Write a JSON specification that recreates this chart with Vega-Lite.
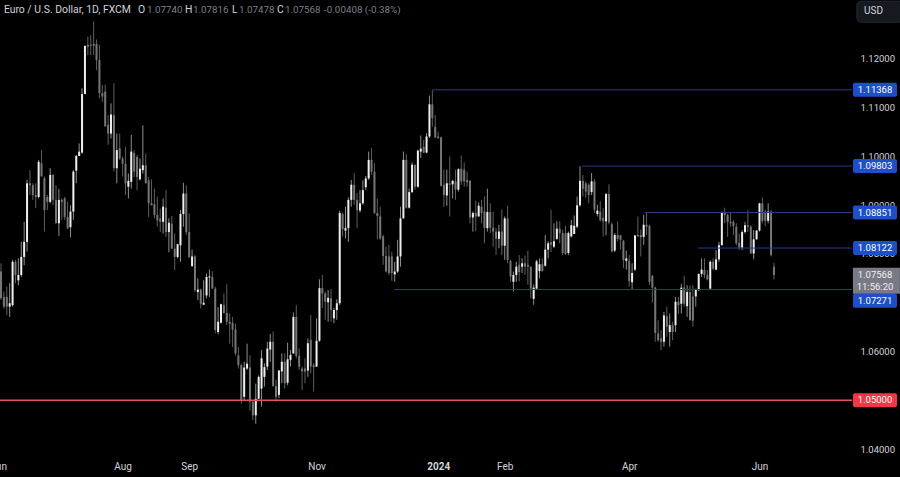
{
  "$schema": "https://vega.github.io/schema/vega-lite/v6.json",
  "width": 852,
  "height": 457,
  "autosize": {"type": "none"},
  "padding": {"left": 0, "top": 0, "right": 48, "bottom": 20},
  "background": "#000000",
  "config": {
    "view": {"stroke": null},
    "font": "Roboto",
    "axis": {
      "grid": false,
      "ticks": false,
      "domain": false,
      "labelColor": "#d1d4dc",
      "labelFont": "Roboto",
      "labelFontSize": 9.5,
      "labelOverlap": false,
      "labelFlush": false,
      "labelBound": false
    }
  },
  "resolve": {"scale": {"color": "independent", "strokeWidth": "independent"}},
  "datasets": {
    "bars": [
      {"i":0,"o":1.0764,"h":1.0781,"l":1.0706,"c":1.0709},
      {"i":1,"o":1.0712,"h":1.0723,"l":1.0688,"c":1.0692},
      {"i":2,"o":1.0712,"h":1.0733,"l":1.0675,"c":1.0692},
      {"i":3,"o":1.0692,"h":1.0740,"l":1.0671,"c":1.0699},
      {"i":4,"o":1.0695,"h":1.0788,"l":1.0692,"c":1.0784},
      {"i":5,"o":1.0784,"h":1.0788,"l":1.0740,"c":1.0757},
      {"i":6,"o":1.0746,"h":1.0791,"l":1.0736,"c":1.0757},
      {"i":7,"o":1.0757,"h":1.0825,"l":1.0753,"c":1.0794},
      {"i":8,"o":1.0794,"h":1.0866,"l":1.0777,"c":1.0825},
      {"i":9,"o":1.0825,"h":1.0952,"l":1.0805,"c":1.0945},
      {"i":10,"o":1.0945,"h":1.0972,"l":1.0921,"c":1.0941},
      {"i":11,"o":1.0941,"h":1.0945,"l":1.0911,"c":1.0921},
      {"i":12,"o":1.0921,"h":1.0945,"l":1.0894,"c":1.0917},
      {"i":13,"o":1.0917,"h":1.0993,"l":1.0914,"c":1.0989},
      {"i":14,"o":1.0986,"h":1.1013,"l":1.0959,"c":1.0959},
      {"i":15,"o":1.0955,"h":1.0959,"l":1.0846,"c":1.0890},
      {"i":16,"o":1.0917,"h":1.0921,"l":1.0890,"c":1.0907},
      {"i":17,"o":1.0907,"h":1.0976,"l":1.0904,"c":1.0962},
      {"i":18,"o":1.0962,"h":1.0964,"l":1.0900,"c":1.0911},
      {"i":19,"o":1.0911,"h":1.0941,"l":1.0863,"c":1.0863},
      {"i":20,"o":1.0863,"h":1.0933,"l":1.0837,"c":1.0911},
      {"i":21,"o":1.0911,"h":1.0914,"l":1.0870,"c":1.0907},
      {"i":22,"o":1.0914,"h":1.0917,"l":1.0870,"c":1.0876},
      {"i":23,"o":1.0876,"h":1.0907,"l":1.0852,"c":1.0852},
      {"i":24,"o":1.0855,"h":1.0900,"l":1.0834,"c":1.0887},
      {"i":25,"o":1.0887,"h":1.0972,"l":1.0870,"c":1.0969},
      {"i":26,"o":1.0971,"h":1.1003,"l":1.0945,"c":1.1001},
      {"i":27,"o":1.1001,"h":1.1027,"l":1.1001,"c":1.1010},
      {"i":28,"o":1.1008,"h":1.1140,"l":1.1006,"c":1.1128},
      {"i":29,"o":1.1128,"h":1.1227,"l":1.1128,"c":1.1227},
      {"i":30,"o":1.1229,"h":1.1246,"l":1.1208,"c":1.1225},
      {"i":31,"o":1.1229,"h":1.1249,"l":1.1208,"c":1.1227},
      {"i":32,"o":1.1231,"h":1.1277,"l":1.1208,"c":1.1227},
      {"i":33,"o":1.1231,"h":1.1240,"l":1.1177,"c":1.1198},
      {"i":34,"o":1.1198,"h":1.1229,"l":1.1119,"c":1.1130},
      {"i":35,"o":1.1130,"h":1.1147,"l":1.1112,"c":1.1123},
      {"i":36,"o":1.1133,"h":1.1147,"l":1.1061,"c":1.1062},
      {"i":37,"o":1.1065,"h":1.1085,"l":1.1024,"c":1.1047},
      {"i":38,"o":1.1047,"h":1.1109,"l":1.1037,"c":1.1086},
      {"i":39,"o":1.1085,"h":1.1150,"l":1.0969,"c":1.0976},
      {"i":40,"o":1.0976,"h":1.1047,"l":1.0945,"c":1.1013},
      {"i":41,"o":1.1017,"h":1.1047,"l":1.0993,"c":1.0996},
      {"i":42,"o":1.0996,"h":1.1000,"l":1.0959,"c":1.0985},
      {"i":43,"o":1.0985,"h":1.1020,"l":1.0921,"c":1.0945},
      {"i":44,"o":1.0938,"h":1.0965,"l":1.0914,"c":1.0950},
      {"i":45,"o":1.0948,"h":1.1044,"l":1.0934,"c":1.1010},
      {"i":46,"o":1.1007,"h":1.1013,"l":1.0958,"c":1.0969},
      {"i":47,"o":1.0999,"h":1.1003,"l":1.0931,"c":1.0958},
      {"i":48,"o":1.0953,"h":1.0996,"l":1.0951,"c":1.0975},
      {"i":49,"o":1.0972,"h":1.1064,"l":1.0965,"c":1.0982},
      {"i":50,"o":1.0982,"h":1.1006,"l":1.0945,"c":1.0945},
      {"i":51,"o":1.0951,"h":1.0958,"l":1.0876,"c":1.0904},
      {"i":52,"o":1.0904,"h":1.0953,"l":1.0900,"c":1.0900},
      {"i":53,"o":1.0902,"h":1.0934,"l":1.0873,"c":1.0880},
      {"i":54,"o":1.0880,"h":1.0917,"l":1.0856,"c":1.0869},
      {"i":55,"o":1.0873,"h":1.0893,"l":1.0845,"c":1.0866},
      {"i":56,"o":1.0866,"h":1.0914,"l":1.0842,"c":1.0897},
      {"i":57,"o":1.0895,"h":1.0931,"l":1.0835,"c":1.0845},
      {"i":58,"o":1.0845,"h":1.0873,"l":1.0804,"c":1.0864},
      {"i":59,"o":1.0862,"h":1.0878,"l":1.0811,"c":1.0811},
      {"i":60,"o":1.0811,"h":1.0842,"l":1.0767,"c":1.0794},
      {"i":61,"o":1.0794,"h":1.0821,"l":1.0791,"c":1.0820},
      {"i":62,"o":1.0818,"h":1.0890,"l":1.0784,"c":1.0882},
      {"i":63,"o":1.0882,"h":1.0946,"l":1.0856,"c":1.0924},
      {"i":64,"o":1.0924,"h":1.0941,"l":1.0839,"c":1.0845},
      {"i":65,"o":1.0845,"h":1.0883,"l":1.0793,"c":1.0793},
      {"i":66,"o":1.0775,"h":1.0809,"l":1.0774,"c":1.0795},
      {"i":67,"o":1.0795,"h":1.0798,"l":1.0722,"c":1.0726},
      {"i":68,"o":1.0722,"h":1.0750,"l":1.0705,"c":1.0727},
      {"i":69,"o":1.0727,"h":1.0729,"l":1.0688,"c":1.0698},
      {"i":70,"o":1.0696,"h":1.0746,"l":1.0695,"c":1.0700},
      {"i":71,"o":1.0715,"h":1.0760,"l":1.0709,"c":1.0753},
      {"i":72,"o":1.0752,"h":1.0768,"l":1.0712,"c":1.0754},
      {"i":73,"o":1.0753,"h":1.0765,"l":1.0729,"c":1.0729},
      {"i":74,"o":1.0729,"h":1.0733,"l":1.0637,"c":1.0644},
      {"i":75,"o":1.0640,"h":1.0691,"l":1.0635,"c":1.0661},
      {"i":76,"o":1.0659,"h":1.0698,"l":1.0657,"c":1.0697},
      {"i":77,"o":1.0695,"h":1.0719,"l":1.0678,"c":1.0679},
      {"i":78,"o":1.0679,"h":1.0738,"l":1.0654,"c":1.0661},
      {"i":79,"o":1.0661,"h":1.0678,"l":1.0616,"c":1.0657},
      {"i":80,"o":1.0659,"h":1.0671,"l":1.0609,"c":1.0645},
      {"i":81,"o":1.0645,"h":1.0657,"l":1.0592,"c":1.0596},
      {"i":82,"o":1.0592,"h":1.0609,"l":1.0565,"c":1.0572},
      {"i":83,"o":1.0572,"h":1.0575,"l":1.0493,"c":1.0500},
      {"i":84,"o":1.0507,"h":1.0579,"l":1.0500,"c":1.0567},
      {"i":85,"o":1.0565,"h":1.0616,"l":1.0562,"c":1.0575},
      {"i":86,"o":1.0567,"h":1.0592,"l":1.0479,"c":1.0497},
      {"i":87,"o":1.0497,"h":1.0500,"l":1.0459,"c":1.0469},
      {"i":88,"o":1.0469,"h":1.0534,"l":1.0452,"c":1.0503},
      {"i":89,"o":1.0503,"h":1.0551,"l":1.0503,"c":1.0548},
      {"i":90,"o":1.0524,"h":1.0603,"l":1.0487,"c":1.0586},
      {"i":91,"o":1.0548,"h":1.0576,"l":1.0528,"c":1.0568},
      {"i":92,"o":1.0569,"h":1.0620,"l":1.0562,"c":1.0606},
      {"i":93,"o":1.0604,"h":1.0636,"l":1.0579,"c":1.0620},
      {"i":94,"o":1.0620,"h":1.0641,"l":1.0528,"c":1.0529},
      {"i":95,"o":1.0529,"h":1.0542,"l":1.0497,"c":1.0507},
      {"i":96,"o":1.0511,"h":1.0562,"l":1.0504,"c":1.0561},
      {"i":97,"o":1.0559,"h":1.0596,"l":1.0535,"c":1.0579},
      {"i":98,"o":1.0579,"h":1.0596,"l":1.0524,"c":1.0535},
      {"i":99,"o":1.0536,"h":1.0618,"l":1.0531,"c":1.0584},
      {"i":100,"o":1.0583,"h":1.0603,"l":1.0569,"c":1.0593},
      {"i":101,"o":1.0596,"h":1.0680,"l":1.0596,"c":1.0671},
      {"i":102,"o":1.0671,"h":1.0695,"l":1.0586,"c":1.0591},
      {"i":103,"o":1.0591,"h":1.0606,"l":1.0562,"c":1.0569},
      {"i":104,"o":1.0565,"h":1.0569,"l":1.0521,"c":1.0559},
      {"i":105,"o":1.0565,"h":1.0586,"l":1.0535,"c":1.0559},
      {"i":106,"o":1.0561,"h":1.0627,"l":1.0548,"c":1.0617},
      {"i":107,"o":1.0624,"h":1.0675,"l":1.0555,"c":1.0569},
      {"i":108,"o":1.0572,"h":1.0576,"l":1.0518,"c":1.0568},
      {"i":109,"o":1.0569,"h":1.0668,"l":1.0569,"c":1.0622},
      {"i":110,"o":1.0622,"h":1.0748,"l":1.0620,"c":1.0730},
      {"i":111,"o":1.0730,"h":1.0757,"l":1.0689,"c":1.0719},
      {"i":112,"o":1.0719,"h":1.0723,"l":1.0665,"c":1.0702},
      {"i":113,"o":1.0701,"h":1.0726,"l":1.0661,"c":1.0710},
      {"i":114,"o":1.0709,"h":1.0728,"l":1.0661,"c":1.0685},
      {"i":115,"o":1.0668,"h":1.0689,"l":1.0658,"c":1.0685},
      {"i":116,"o":1.0685,"h":1.0707,"l":1.0665,"c":1.0699},
      {"i":117,"o":1.0699,"h":1.0889,"l":1.0695,"c":1.0884},
      {"i":118,"o":1.0882,"h":1.0885,"l":1.0836,"c":1.0851},
      {"i":119,"o":1.0848,"h":1.0897,"l":1.0832,"c":1.0853},
      {"i":120,"o":1.0853,"h":1.0916,"l":1.0825,"c":1.0911},
      {"i":121,"o":1.0911,"h":1.0952,"l":1.0897,"c":1.0942},
      {"i":122,"o":1.0942,"h":1.0966,"l":1.0901,"c":1.0911},
      {"i":123,"o":1.0911,"h":1.0925,"l":1.0853,"c":1.0890},
      {"i":124,"o":1.0889,"h":1.0931,"l":1.0885,"c":1.0904},
      {"i":125,"o":1.0904,"h":1.0951,"l":1.0901,"c":1.0931},
      {"i":126,"o":1.0937,"h":1.0960,"l":1.0931,"c":1.0955},
      {"i":127,"o":1.0955,"h":1.1010,"l":1.0952,"c":1.0993},
      {"i":128,"o":1.0993,"h":1.1017,"l":1.0962,"c":1.0969},
      {"i":129,"o":1.0969,"h":1.0986,"l":1.0882,"c":1.0884},
      {"i":130,"o":1.0884,"h":1.0914,"l":1.0830,"c":1.0878},
      {"i":131,"o":1.0877,"h":1.0897,"l":1.0829,"c":1.0832},
      {"i":132,"o":1.0836,"h":1.0839,"l":1.0778,"c":1.0796},
      {"i":133,"o":1.0796,"h":1.0815,"l":1.0762,"c":1.0764},
      {"i":134,"o":1.0795,"h":1.0819,"l":1.0757,"c":1.0761},
      {"i":135,"o":1.0795,"h":1.0805,"l":1.0745,"c":1.0761},
      {"i":136,"o":1.0758,"h":1.0784,"l":1.0743,"c":1.0764},
      {"i":137,"o":1.0764,"h":1.0829,"l":1.0761,"c":1.0795},
      {"i":138,"o":1.0795,"h":1.0897,"l":1.0774,"c":1.0873},
      {"i":139,"o":1.0873,"h":1.1010,"l":1.0873,"c":1.0993},
      {"i":140,"o":1.0993,"h":1.1005,"l":1.0893,"c":1.0895},
      {"i":141,"o":1.0895,"h":1.0934,"l":1.0893,"c":1.0927},
      {"i":142,"o":1.0927,"h":1.0988,"l":1.0925,"c":1.0983},
      {"i":143,"o":1.0983,"h":1.0983,"l":1.0932,"c":1.0938},
      {"i":144,"o":1.0938,"h":1.1014,"l":1.0936,"c":1.1012},
      {"i":145,"o":1.1010,"h":1.1043,"l":1.0997,"c":1.1016},
      {"i":146,"o":1.1020,"h":1.1034,"l":1.1007,"c":1.1008},
      {"i":147,"o":1.1008,"h":1.1048,"l":1.1007,"c":1.1041},
      {"i":148,"o":1.1041,"h":1.1125,"l":1.1038,"c":1.1107},
      {"i":149,"o":1.1107,"h":1.1137,"l":1.1061,"c":1.1079},
      {"i":150,"o":1.1061,"h":1.1085,"l":1.1038,"c":1.1039},
      {"i":151,"o":1.1041,"h":1.1051,"l":1.1036,"c":1.1038},
      {"i":152,"o":1.1039,"h":1.1041,"l":1.0938,"c":1.0940},
      {"i":153,"o":1.0942,"h":1.0973,"l":1.0897,"c":1.0921},
      {"i":154,"o":1.0920,"h":1.0973,"l":1.0899,"c":1.0945},
      {"i":155,"o":1.0945,"h":1.1000,"l":1.0877,"c":1.0942},
      {"i":156,"o":1.0943,"h":1.0952,"l":1.0914,"c":1.0950},
      {"i":157,"o":1.0949,"h":1.0973,"l":1.0911,"c":1.0932},
      {"i":158,"o":1.0932,"h":1.0976,"l":1.0928,"c":1.0974},
      {"i":159,"o":1.0975,"h":1.1002,"l":1.0942,"c":1.0949},
      {"i":160,"o":1.0973,"h":1.0988,"l":1.0938,"c":1.0949},
      {"i":161,"o":1.0952,"h":1.0969,"l":1.0938,"c":1.0947},
      {"i":162,"o":1.0950,"h":1.0952,"l":1.0863,"c":1.0875},
      {"i":163,"o":1.0875,"h":1.0887,"l":1.0846,"c":1.0884},
      {"i":164,"o":1.0884,"h":1.0909,"l":1.0847,"c":1.0877},
      {"i":165,"o":1.0877,"h":1.0906,"l":1.0877,"c":1.0899},
      {"i":166,"o":1.0897,"h":1.0911,"l":1.0863,"c":1.0884},
      {"i":167,"o":1.0887,"h":1.0918,"l":1.0822,"c":1.0853},
      {"i":168,"o":1.0853,"h":1.0934,"l":1.0846,"c":1.0886},
      {"i":169,"o":1.0886,"h":1.0904,"l":1.0843,"c":1.0854},
      {"i":170,"o":1.0854,"h":1.0887,"l":1.0815,"c":1.0846},
      {"i":171,"o":1.0846,"h":1.0853,"l":1.0798,"c":1.0831},
      {"i":172,"o":1.0831,"h":1.0860,"l":1.0812,"c":1.0846},
      {"i":173,"o":1.0846,"h":1.0891,"l":1.0798,"c":1.0817},
      {"i":174,"o":1.0817,"h":1.0877,"l":1.0788,"c":1.0873},
      {"i":175,"o":1.0873,"h":1.0899,"l":1.0781,"c":1.0788},
      {"i":176,"o":1.0786,"h":1.0788,"l":1.0743,"c":1.0754},
      {"i":177,"o":1.0743,"h":1.0764,"l":1.0723,"c":1.0757},
      {"i":178,"o":1.0757,"h":1.0784,"l":1.0743,"c":1.0774},
      {"i":179,"o":1.0778,"h":1.0798,"l":1.0744,"c":1.0763},
      {"i":180,"o":1.0774,"h":1.0791,"l":1.0761,"c":1.0781},
      {"i":181,"o":1.0781,"h":1.0797,"l":1.0757,"c":1.0774},
      {"i":182,"o":1.0778,"h":1.0807,"l":1.0737,"c":1.0774},
      {"i":183,"o":1.0774,"h":1.0774,"l":1.0709,"c":1.0729},
      {"i":184,"o":1.0708,"h":1.0737,"l":1.0696,"c":1.0731},
      {"i":185,"o":1.0729,"h":1.0788,"l":1.0727,"c":1.0785},
      {"i":186,"o":1.0765,"h":1.0791,"l":1.0750,"c":1.0779},
      {"i":187,"o":1.0779,"h":1.0791,"l":1.0764,"c":1.0765},
      {"i":188,"o":1.0776,"h":1.0839,"l":1.0774,"c":1.0809},
      {"i":189,"o":1.0809,"h":1.0826,"l":1.0791,"c":1.0822},
      {"i":190,"o":1.0824,"h":1.0891,"l":1.0804,"c":1.0819},
      {"i":191,"o":1.0815,"h":1.0863,"l":1.0812,"c":1.0826},
      {"i":192,"o":1.0831,"h":1.0867,"l":1.0829,"c":1.0852},
      {"i":193,"o":1.0852,"h":1.0867,"l":1.0822,"c":1.0843},
      {"i":194,"o":1.0843,"h":1.0850,"l":1.0798,"c":1.0802},
      {"i":195,"o":1.0843,"h":1.0858,"l":1.0798,"c":1.0800},
      {"i":196,"o":1.0802,"h":1.0846,"l":1.0798,"c":1.0843},
      {"i":197,"o":1.0836,"h":1.0870,"l":1.0834,"c":1.0859},
      {"i":198,"o":1.0841,"h":1.0879,"l":1.0841,"c":1.0858},
      {"i":199,"o":1.0856,"h":1.0918,"l":1.0853,"c":1.0900},
      {"i":200,"o":1.0900,"h":1.0980,"l":1.0897,"c":1.0950},
      {"i":201,"o":1.0950,"h":1.0962,"l":1.0918,"c":1.0934},
      {"i":202,"o":1.0945,"h":1.0949,"l":1.0915,"c":1.0928},
      {"i":203,"o":1.0942,"h":1.0945,"l":1.0904,"c":1.0921},
      {"i":204,"o":1.0927,"h":1.0966,"l":1.0921,"c":1.0949},
      {"i":205,"o":1.0949,"h":1.0954,"l":1.0884,"c":1.0891},
      {"i":206,"o":1.0882,"h":1.0901,"l":1.0877,"c":1.0889},
      {"i":207,"o":1.0887,"h":1.0908,"l":1.0867,"c":1.0870},
      {"i":208,"o":1.0874,"h":1.0894,"l":1.0836,"c":1.0867},
      {"i":209,"o":1.0867,"h":1.0925,"l":1.0838,"c":1.0923},
      {"i":210,"o":1.0923,"h":1.0943,"l":1.0861,"c":1.0865},
      {"i":211,"o":1.0861,"h":1.0865,"l":1.0804,"c":1.0805},
      {"i":212,"o":1.0807,"h":1.0843,"l":1.0804,"c":1.0839},
      {"i":213,"o":1.0839,"h":1.0867,"l":1.0826,"c":1.0831},
      {"i":214,"o":1.0838,"h":1.0839,"l":1.0809,"c":1.0829},
      {"i":215,"o":1.0827,"h":1.0829,"l":1.0771,"c":1.0788},
      {"i":216,"o":1.0786,"h":1.0807,"l":1.0768,"c":1.0791},
      {"i":217,"o":1.0786,"h":1.0798,"l":1.0733,"c":1.0744},
      {"i":218,"o":1.0742,"h":1.0781,"l":1.0727,"c":1.0761},
      {"i":219,"o":1.0768,"h":1.0839,"l":1.0765,"c":1.0838},
      {"i":220,"o":1.0839,"h":1.0877,"l":1.0836,"c":1.0836},
      {"i":221,"o":1.0839,"h":1.0850,"l":1.0795,"c":1.0834},
      {"i":222,"o":1.0835,"h":1.0880,"l":1.0819,"c":1.0860},
      {"i":223,"o":1.0860,"h":1.0885,"l":1.0839,"c":1.0856},
      {"i":224,"o":1.0858,"h":1.0860,"l":1.0737,"c":1.0743},
      {"i":225,"o":1.0755,"h":1.0757,"l":1.0700,"c":1.0731},
      {"i":226,"o":1.0731,"h":1.0733,"l":1.0620,"c":1.0638},
      {"i":227,"o":1.0637,"h":1.0664,"l":1.0620,"c":1.0623},
      {"i":228,"o":1.0627,"h":1.0644,"l":1.0603,"c":1.0620},
      {"i":229,"o":1.0620,"h":1.0681,"l":1.0610,"c":1.0674},
      {"i":230,"o":1.0672,"h":1.0692,"l":1.0630,"c":1.0651},
      {"i":231,"o":1.0640,"h":1.0678,"l":1.0610,"c":1.0654},
      {"i":232,"o":1.0654,"h":1.0661,"l":1.0623,"c":1.0640},
      {"i":233,"o":1.0654,"h":1.0712,"l":1.0640,"c":1.0702},
      {"i":234,"o":1.0702,"h":1.0712,"l":1.0677,"c":1.0695},
      {"i":235,"o":1.0698,"h":1.0739,"l":1.0678,"c":1.0731},
      {"i":236,"o":1.0731,"h":1.0755,"l":1.0692,"c":1.0698},
      {"i":237,"o":1.0693,"h":1.0736,"l":1.0671,"c":1.0722},
      {"i":238,"o":1.0722,"h":1.0736,"l":1.0664,"c":1.0664},
      {"i":239,"o":1.0713,"h":1.0736,"l":1.0651,"c":1.0663},
      {"i":240,"o":1.0713,"h":1.0729,"l":1.0692,"c":1.0726},
      {"i":241,"o":1.0726,"h":1.0760,"l":1.0724,"c":1.0759},
      {"i":242,"o":1.0759,"h":1.0791,"l":1.0753,"c":1.0768},
      {"i":243,"o":1.0767,"h":1.0791,"l":1.0750,"c":1.0757},
      {"i":244,"o":1.0757,"h":1.0767,"l":1.0746,"c":1.0748},
      {"i":245,"o":1.0729,"h":1.0787,"l":1.0726,"c":1.0784},
      {"i":246,"o":1.0784,"h":1.0791,"l":1.0767,"c":1.0770},
      {"i":247,"o":1.0768,"h":1.0808,"l":1.0767,"c":1.0789},
      {"i":248,"o":1.0789,"h":1.0825,"l":1.0784,"c":1.0818},
      {"i":249,"o":1.0818,"h":1.0887,"l":1.0818,"c":1.0884},
      {"i":250,"o":1.0884,"h":1.0895,"l":1.0863,"c":1.0880},
      {"i":251,"o":1.0880,"h":1.0883,"l":1.0835,"c":1.0866},
      {"i":252,"o":1.0866,"h":1.0884,"l":1.0856,"c":1.0863},
      {"i":253,"o":1.0866,"h":1.0869,"l":1.0839,"c":1.0857},
      {"i":254,"o":1.0856,"h":1.0863,"l":1.0818,"c":1.0822},
      {"i":255,"o":1.0823,"h":1.0842,"l":1.0808,"c":1.0813},
      {"i":256,"o":1.0813,"h":1.0849,"l":1.0808,"c":1.0845},
      {"i":257,"o":1.0845,"h":1.0866,"l":1.0842,"c":1.0859},
      {"i":258,"o":1.0859,"h":1.0890,"l":1.0845,"c":1.0856},
      {"i":259,"o":1.0856,"h":1.0859,"l":1.0801,"c":1.0801},
      {"i":260,"o":1.0801,"h":1.0849,"l":1.0789,"c":1.0830},
      {"i":261,"o":1.0830,"h":1.0849,"l":1.0830,"c":1.0848},
      {"i":262,"o":1.0848,"h":1.0905,"l":1.0846,"c":1.0904},
      {"i":263,"o":1.0904,"h":1.0916,"l":1.0863,"c":1.0868},
      {"i":264,"o":1.0887,"h":1.0890,"l":1.0857,"c":1.0868},
      {"i":265,"o":1.0868,"h":1.0904,"l":1.0863,"c":1.0887},
      {"i":266,"o":1.0887,"h":1.0890,"l":1.0795,"c":1.0798},
      {"i":267,"o":1.0774,"h":1.07816,"l":1.07478,"c":1.07568}
    ],
    "levels": [
      {"i":149.2,"p":1.11368,"kind":"level"},
      {"i":200.7,"p":1.09803,"kind":"level"},
      {"i":222.5,"p":1.08851,"kind":"level"},
      {"i":240.8,"p":1.08122,"kind":"level"},
      {"i":135.8,"p":1.07271,"kind":"level"},
      {"i":-0.345,"p":1.05,"kind":"key"}
    ],
    "tags": [
      {"p":1.11368,"label":"1.11368","kind":"level"},
      {"p":1.09803,"label":"1.09803","kind":"level"},
      {"p":1.08851,"label":"1.08851","kind":"level"},
      {"p":1.08122,"label":"1.08122","kind":"level"},
      {"p":1.0704,"label":"1.07271","kind":"level"},
      {"p":1.05,"label":"1.05000","kind":"key"}
    ],
    "last": [
      {"p":1.0757,"label":"1.07568"},
      {"p":1.0733,"label":"11:56:20"}
    ],
    "header": [
      {"i":1,"label":"Euro / U.S. Dollar, 1D, FXCM","kind":"name"},
      {"i":47.3,"label":"O","kind":"name"},
      {"i":50.4,"label":"1.07740","kind":"value"},
      {"i":63.6,"label":"H","kind":"name"},
      {"i":66.3,"label":"1.07816","kind":"value"},
      {"i":79.8,"label":"L","kind":"name"},
      {"i":82.2,"label":"1.07478","kind":"value"},
      {"i":95.3,"label":"C","kind":"name"},
      {"i":98.1,"label":"1.07568","kind":"value"},
      {"i":111.6,"label":"-0.00408 (-0.38%)","kind":"value"}
    ]
  },
  "layer": [
    {
      "data": {"name": "bars"},
      "mark": {"type": "rule", "strokeWidth": 1},
      "encoding": {
        "x": {
          "field": "i",
          "type": "quantitative",
          "scale": {"domain": [-0.345, 293.96], "nice": false, "zero": false},
          "axis": {
            "title": null,
            "values": [-0.3, 42, 65, 109, 151, 174, 217, 262],
            "labelExpr": "datum.value < 0 ? 'Jun' : {'42':'Aug','65':'Sep','109':'Nov','151':'2024','174':'Feb','217':'Apr','262':'Jun'}[datum.value]",
            "labelFontWeight": {"condition": {"test": "datum.value == 151", "value": "bold"}, "value": "normal"},
            "labelOffset": {"condition": {"test": "datum.value < 0", "value": -2}, "value": 0},
            "labelFontSize": 10,
            "labelPadding": 4
          }
        },
        "y": {
          "field": "h",
          "type": "quantitative",
          "scale": {"domain": [1.03836, 1.1321], "nice": false, "zero": false},
          "axis": {
            "orient": "right",
            "title": null,
            "values": [1.04, 1.06, 1.08, 1.09, 1.1, 1.11, 1.12],
            "format": ".5f",
            "labelPadding": 8
          }
        },
        "y2": {"field": "l"},
        "color": {
          "condition": {"test": "datum.c >= datum.o", "value": "#8f8f8f"},
          "value": "#5f5f5f"
        }
      }
    },
    {
      "data": {"name": "bars"},
      "mark": {"type": "rule", "strokeWidth": 2},
      "encoding": {
        "x": {
          "field": "i",
          "type": "quantitative",
          "scale": {"domain": [-0.345, 293.96], "nice": false, "zero": false},
          "axis": {"title": null}
        },
        "y": {
          "field": "o",
          "type": "quantitative",
          "scale": {"domain": [1.03836, 1.1321], "nice": false, "zero": false},
          "axis": {"orient": "right", "title": null}
        },
        "y2": {"field": "c"},
        "color": {
          "condition": {"test": "datum.c >= datum.o", "value": "#eeeeee"},
          "value": "#767676"
        }
      }
    },
    {
      "data": {"name": "levels"},
      "mark": {"type": "rule"},
      "encoding": {
        "x": {
          "field": "i",
          "type": "quantitative",
          "scale": {"domain": [-0.345, 293.96], "nice": false, "zero": false},
          "axis": {"title": null}
        },
        "x2": {"datum": 293.96},
        "y": {
          "field": "p",
          "type": "quantitative",
          "scale": {"domain": [1.03836, 1.1321], "nice": false, "zero": false},
          "axis": {"orient": "right", "title": null}
        },
        "color": {
          "field": "kind",
          "type": "nominal",
          "scale": {"domain": ["level", "key"], "range": ["#2b3a85", "#e0565b"]},
          "legend": null
        },
        "strokeWidth": {
          "field": "kind",
          "type": "nominal",
          "scale": {"domain": ["level", "key"], "range": [1, 1.5]},
          "legend": null
        }
      }
    },
    {
      "data": {"name": "tags"},
      "mark": {"type": "rect", "width": 44, "height": 14, "cornerRadius": 2},
      "encoding": {
        "x": {
          "datum": 301.9,
          "type": "quantitative",
          "scale": {"domain": [-0.345, 293.96], "nice": false, "zero": false},
          "axis": {"title": null}
        },
        "y": {
          "field": "p",
          "type": "quantitative",
          "scale": {"domain": [1.03836, 1.1321], "nice": false, "zero": false},
          "axis": {"orient": "right", "title": null}
        },
        "color": {
          "field": "kind",
          "type": "nominal",
          "scale": {"domain": ["level", "key"], "range": ["#1c4fc8", "#f23645"]},
          "legend": null
        }
      }
    },
    {
      "data": {"values": [{"p": 1.0745}]},
      "mark": {"type": "rect", "width": 47, "height": 26, "color": "#787b86"},
      "encoding": {
        "x": {
          "datum": 302.4,
          "type": "quantitative",
          "scale": {"domain": [-0.345, 293.96], "nice": false, "zero": false},
          "axis": {"title": null}
        },
        "y": {
          "field": "p",
          "type": "quantitative",
          "scale": {"domain": [1.03836, 1.1321], "nice": false, "zero": false},
          "axis": {"orient": "right", "title": null}
        }
      }
    },
    {
      "data": {"name": "tags"},
      "mark": {"type": "text", "font": "Roboto", "fontSize": 9.5, "color": "#ffffff", "baseline": "middle"},
      "encoding": {
        "x": {
          "datum": 301.9,
          "type": "quantitative",
          "scale": {"domain": [-0.345, 293.96], "nice": false, "zero": false},
          "axis": {"title": null}
        },
        "y": {
          "field": "p",
          "type": "quantitative",
          "scale": {"domain": [1.03836, 1.1321], "nice": false, "zero": false},
          "axis": {"orient": "right", "title": null}
        },
        "text": {"field": "label"}
      }
    },
    {
      "data": {"name": "last"},
      "mark": {"type": "text", "font": "Roboto", "fontSize": 9.5, "color": "#f0f0f0", "baseline": "middle"},
      "encoding": {
        "x": {
          "datum": 301.9,
          "type": "quantitative",
          "scale": {"domain": [-0.345, 293.96], "nice": false, "zero": false},
          "axis": {"title": null}
        },
        "y": {
          "field": "p",
          "type": "quantitative",
          "scale": {"domain": [1.03836, 1.1321], "nice": false, "zero": false},
          "axis": {"orient": "right", "title": null}
        },
        "text": {"field": "label"}
      }
    },
    {
      "data": {"name": "header"},
      "mark": {"type": "text", "font": "Roboto", "align": "left", "baseline": "middle"},
      "encoding": {
        "x": {
          "field": "i",
          "type": "quantitative",
          "scale": {"domain": [-0.345, 293.96], "nice": false, "zero": false},
          "axis": {"title": null}
        },
        "y": {
          "datum": 1.13,
          "type": "quantitative",
          "scale": {"domain": [1.03836, 1.1321], "nice": false, "zero": false},
          "axis": {"orient": "right", "title": null}
        },
        "text": {"field": "label"},
        "size": {
          "field": "kind",
          "type": "nominal",
          "scale": {"domain": ["name", "value"], "range": [10.4, 9.8]},
          "legend": null
        },
        "color": {
          "field": "kind",
          "type": "nominal",
          "scale": {"domain": ["name", "value"], "range": ["#d1d4dc", "#7c7f88"]},
          "legend": null
        }
      }
    },
    {
      "data": {"values": [{"p": 1.1297}]},
      "mark": {"type": "rect", "width": 46, "height": 21, "cornerRadius": 4, "color": "#16191f", "stroke": "#262a33"},
      "encoding": {
        "x": {
          "datum": 303.6,
          "type": "quantitative",
          "scale": {"domain": [-0.345, 293.96], "nice": false, "zero": false},
          "axis": {"title": null}
        },
        "y": {
          "field": "p",
          "type": "quantitative",
          "scale": {"domain": [1.03836, 1.1321], "nice": false, "zero": false},
          "axis": {"orient": "right", "title": null}
        }
      }
    },
    {
      "data": {"values": [{"p": 1.1298, "label": "USD"}]},
      "mark": {"type": "text", "font": "Roboto", "fontSize": 10, "align": "left", "baseline": "middle", "color": "#d1d4dc"},
      "encoding": {
        "x": {
          "datum": 298.1,
          "type": "quantitative",
          "scale": {"domain": [-0.345, 293.96], "nice": false, "zero": false},
          "axis": {"title": null}
        },
        "y": {
          "field": "p",
          "type": "quantitative",
          "scale": {"domain": [1.03836, 1.1321], "nice": false, "zero": false},
          "axis": {"orient": "right", "title": null}
        },
        "text": {"field": "label"}
      }
    }
  ]
}
